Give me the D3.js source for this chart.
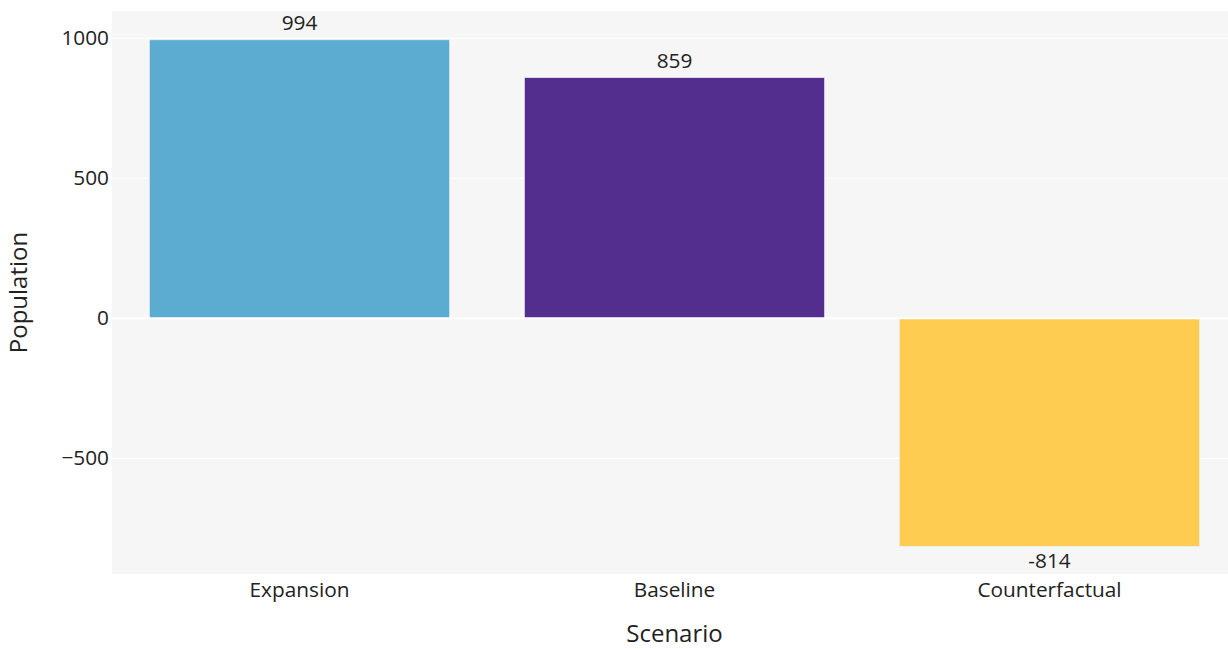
<!DOCTYPE html>
<html>
<head>
<meta charset="utf-8">
<script src="https://cdn.jsdelivr.net/npm/d3@7"></script>
<style>
  html, body { margin: 0; padding: 0; background: #ffffff; overflow: hidden; }
  svg { display: block; font-family: "Open Sans", "Noto Sans", sans-serif; }
</style>
</head>
<body>
<svg id="chart" width="1228" height="649"></svg>
<script>
// Scenario populations
const scenarios = ["Expansion", "Baseline", "Counterfactual"];
const population = [994, 859, -814];
const barColors = ["#5BACD0", "#532E8E", "#FFCC52"];
const yTicks = [-500, 0, 500, 1000];
const yDomain = [-913, 1097];

const plot = { left: 112, right: 1237, top: 11, bottom: 574 };
const tickFont = 20.8;
const titleFont = 24;

const svg = d3.select("#chart");

const x = d3.scaleBand()
  .domain(scenarios)
  .range([plot.left, plot.right])
  .paddingInner(0.2)
  .paddingOuter(0.1);

const y = d3.scaleLinear()
  .domain(yDomain)
  .range([plot.bottom, plot.top]);

// plot background
svg.append("rect")
  .attr("x", plot.left).attr("y", plot.top)
  .attr("width", plot.right - plot.left)
  .attr("height", plot.bottom - plot.top)
  .attr("fill", "#F6F6F6");

// horizontal grid
svg.append("g").selectAll("line")
  .data(yTicks.filter(d => d !== 0))
  .join("line")
  .attr("x1", plot.left).attr("x2", plot.right)
  .attr("y1", d => y(d)).attr("y2", d => y(d))
  .attr("stroke", "#ffffff").attr("stroke-width", 1);

// bars
const data = scenarios.map((s, i) => ({ s, v: population[i], c: barColors[i] }));
svg.append("g").selectAll("rect")
  .data(data)
  .join("rect")
  .attr("x", d => x(d.s))
  .attr("width", x.bandwidth())
  .attr("y", d => y(Math.max(0, d.v)))
  .attr("height", d => Math.abs(y(d.v) - y(0)))
  .attr("fill", d => d.c)
  .attr("stroke", "#E8EEF4")
  .attr("stroke-width", 0.6);

// zero line
svg.append("line")
  .attr("x1", plot.left).attr("x2", plot.right)
  .attr("y1", y(0)).attr("y2", y(0))
  .attr("stroke", "#ffffff").attr("stroke-width", 2);

// value labels
svg.append("g").selectAll("text")
  .data(data)
  .join("text")
  .attr("x", d => x(d.s) + x.bandwidth() / 2)
  .attr("y", d => d.v >= 0 ? y(d.v) - 10 : y(d.v) + 22)
  .attr("text-anchor", "middle")
  .attr("font-size", tickFont)
  .attr("fill", "#222222")
  .text(d => d.v);

// y axis
const fmt = d => d < 0 ? "\u2212" + Math.abs(d) : String(d);
const yAxis = d3.axisLeft(y).tickValues(yTicks).tickFormat(fmt).tickSize(0).tickPadding(3);
const yg = svg.append("g").attr("transform", `translate(${plot.left},0)`).call(yAxis);
yg.select(".domain").remove();
yg.selectAll("text").attr("font-size", tickFont).attr("fill", "#222222").attr("font-family", "Open Sans");

// x axis
const xAxis = d3.axisBottom(x).tickSize(0).tickPadding(8);
const xg = svg.append("g").attr("transform", `translate(0,${plot.bottom})`).call(xAxis);
xg.select(".domain").remove();
xg.selectAll("text").attr("font-size", tickFont).attr("fill", "#222222").attr("font-family", "Open Sans");

// axis titles
svg.append("text")
  .attr("x", (plot.left + plot.right) / 2)
  .attr("y", 642)
  .attr("text-anchor", "middle")
  .attr("font-size", titleFont)
  .attr("fill", "#222222")
  .text("Scenario");

svg.append("text")
  .attr("transform", `translate(27,${(plot.top + plot.bottom) / 2}) rotate(-90)`)
  .attr("text-anchor", "middle")
  .attr("font-size", titleFont)
  .attr("fill", "#222222")
  .text("Population");
</script>
</body>
</html>
